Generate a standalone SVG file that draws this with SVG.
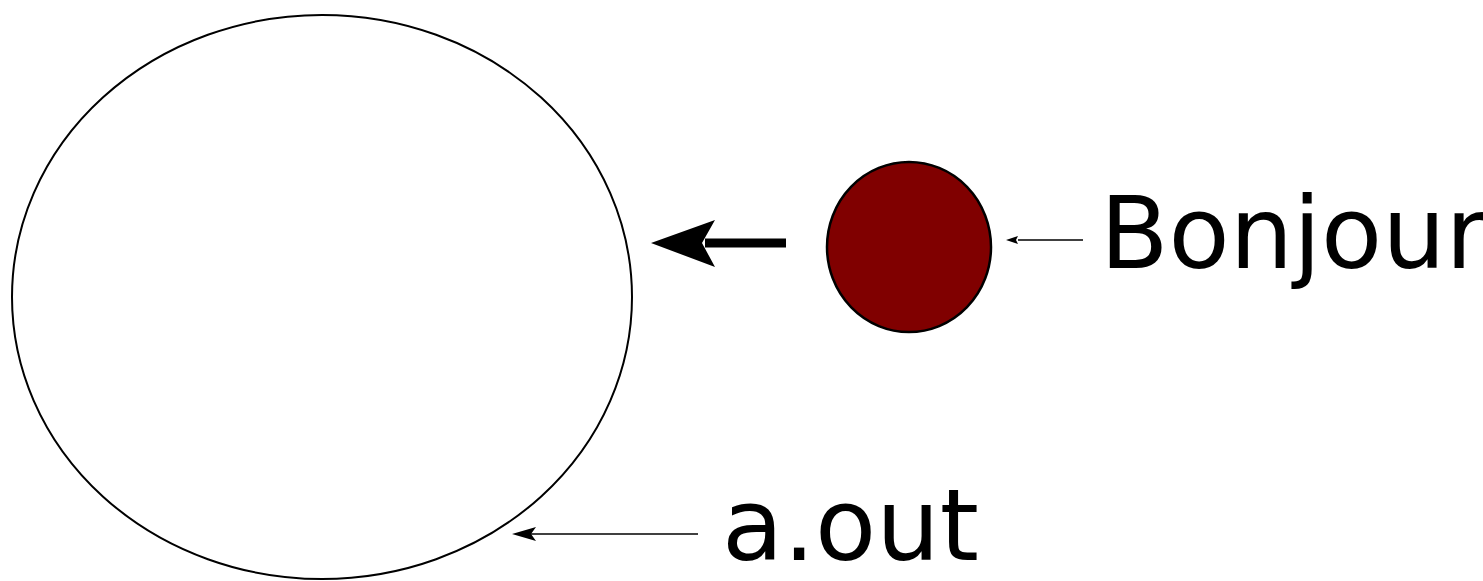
<svg xmlns="http://www.w3.org/2000/svg" width="1483" height="581" viewBox="0 0 1483 581">
<style>
.lbl{font-family:"DejaVu Sans",sans-serif;font-size:100px;fill:#000}
.thin{stroke:#000;stroke-width:1.5;fill:none}
</style>
<defs>
<marker id="ah" markerWidth="12" markerHeight="8" refX="0" refY="4" orient="auto" markerUnits="userSpaceOnUse">
<path d="M0,4 L12,0 L9,4 L12,8 Z" fill="#000"/>
</marker>
</defs>
<rect width="1483" height="581" fill="#fff"/>
<g id="aout-node"><ellipse cx="322" cy="297" rx="310" ry="282" fill="#fff" stroke="#000" stroke-width="2"/></g>
<g id="bonjour-node"><ellipse cx="909" cy="247" rx="82" ry="85" fill="#800000" stroke="#000" stroke-width="2.5"/></g>
<g id="labels">
<text class="lbl" x="1100" y="268">Bonjour</text>
<text class="lbl" x="722" y="560">a.out</text>
</g>
<g id="connectors">
<line x1="786" y1="243" x2="705" y2="243" stroke="#000" stroke-width="9"/>
<path d="M651,243 L715,220 L702,243 L715,267 Z" fill="#000"/>
<line class="thin" x1="1083" y1="240" x2="1018" y2="240"/>
<path d="M1006,240 L1018,236 L1016,240 L1018,244 Z" fill="#000"/>
<line class="thin" x1="698" y1="534" x2="526" y2="534"/>
<path d="M512,534 L536,527 L531,534 L536,541 Z" fill="#000"/>
</g>
</svg>
